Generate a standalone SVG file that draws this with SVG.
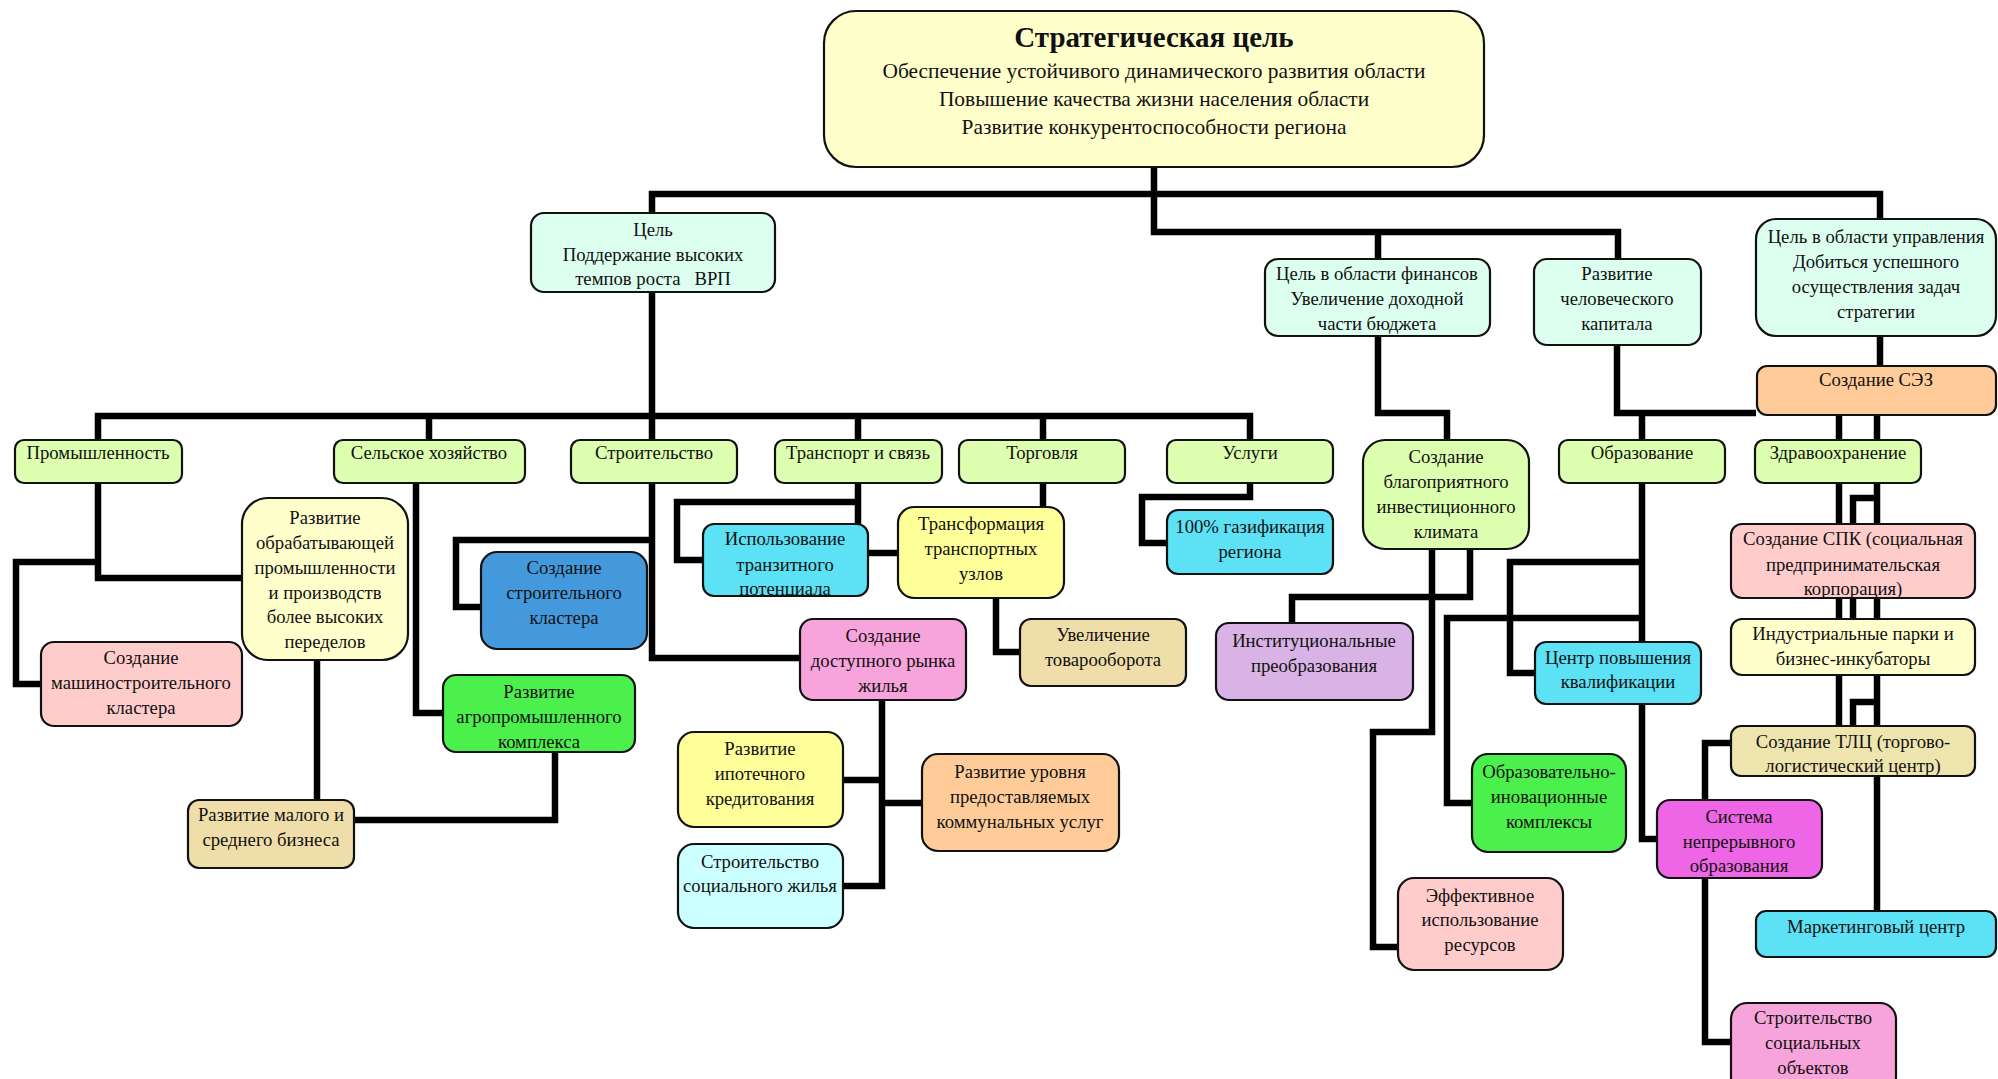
<svg xmlns="http://www.w3.org/2000/svg" width="1998" height="1079" viewBox="0 0 1998 1079">
<style>
.b{stroke:#111;stroke-width:2.2}
.t{font-family:"Liberation Serif","Times New Roman",serif;font-size:18.7px;fill:#111;text-anchor:middle}
.h{font-size:29px;font-weight:bold}
.s{font-size:21.4px}
.c{fill:none;stroke:#000;stroke-width:6.5;stroke-linejoin:miter;stroke-linecap:butt}
.mint{fill:#DCFFF0}.lime{fill:#DDFFB0}.py{fill:#FFFFCC}.yel{fill:#FFFF99}.cy{fill:#5CE1F5}.lcy{fill:#CCFFFF}
.pink{fill:#FFCCCC}.rose{fill:#F8A4DC}.mag{fill:#EE66E6}.grn{fill:#4CF04C}.blu{fill:#4499DD}.lav{fill:#D9B3E6}
.tan{fill:#F0DEAA}.tan2{fill:#EEE4AE}.or{fill:#FFCC99}
</style>
<defs>
<clipPath id="clipUse"><rect x="703" y="524" width="165" height="72" rx="11"/></clipPath>
<clipPath id="clipSpk"><rect x="1731" y="524" width="244" height="74" rx="11"/></clipPath>
</defs>
<rect width="1998" height="1079" fill="#fff"/>
<g id="connectors">
<path class="c" d="M1154,167 V232 H1618 V259"/>
<path class="c" d="M652,213 V194 H1880 V219"/>
<path class="c" d="M1378,232 V259"/>
<path class="c" d="M652,292 V658 H800"/>
<path class="c" d="M98,440 V416 H1250 V440"/>
<path class="c" d="M429,416 V440 M858,416 V440 M1043,416 V440"/>
<path class="c" d="M98,483 V578 H242"/>
<path class="c" d="M98,562 H16 V684 H41"/>
<path class="c" d="M317,660 V800"/>
<path class="c" d="M354,820 H555 V752"/>
<path class="c" d="M416,483 V713 H443"/>
<path class="c" d="M652,540 H456 V607 H481"/>
<path class="c" d="M858,483 V524"/>
<path class="c" d="M858,502 H677 V560 H703"/>
<path class="c" d="M868,553 H898"/>
<path class="c" d="M1043,483 V507"/>
<path class="c" d="M996,598 V652 H1020"/>
<path class="c" d="M1250,483 V497 H1142 V543 H1167"/>
<path class="c" d="M882,700 V886 H842"/>
<path class="c" d="M842,780 H882 M882,803 H922"/>
<path class="c" d="M1378,336 V413 H1447 V440"/>
<path class="c" d="M1617,345 V413 H1756"/>
<path class="c" d="M1642,413 V440"/>
<path class="c" d="M1880,336 V366"/>
<path class="c" d="M1839,415 V440 M1877,415 V440"/>
<path class="c" d="M1839,483 V524 M1877,483 V524"/>
<path class="c" d="M1877,498 H1853 V524"/>
<path class="c" d="M1839,598 V619 M1853,598 V619 M1877,598 V619"/>
<path class="c" d="M1839,675 V726 M1877,675 V726"/>
<path class="c" d="M1877,702 H1853 V726"/>
<path class="c" d="M1877,776 V911"/>
<path class="c" d="M1731,743 H1705 V800"/>
<path class="c" d="M1705,878 V1042 H1731"/>
<path class="c" d="M1470,549 V597 H1292 V622"/>
<path class="c" d="M1432,549 V732 H1373 V947 H1398"/>
<path class="c" d="M1642,483 V642"/>
<path class="c" d="M1642,562 H1510 V673 H1535"/>
<path class="c" d="M1642,618 H1447 V803 H1472"/>
<path class="c" d="M1642,703 V839 H1657"/>
</g>

<g id="n-strategic">
<rect class="b py" x="824" y="11" width="660" height="156" rx="32"/>
<text class="t h" x="1154" y="47">Стратегическая цель</text>
<text class="t s" x="1154" y="78">Обеспечение устойчивого динамического развития области</text>
<text class="t s" x="1154" y="106">Повышение качества жизни населения области</text>
<text class="t s" x="1154" y="134">Развитие конкурентоспособности региона</text>
</g>
<g id="n-grp">
<rect class="b mint" x="531" y="213" width="244" height="79" rx="13"/>
<text class="t" x="653" y="236">Цель</text>
<text class="t" x="653" y="261">Поддержание высоких</text>
<text class="t" x="653" y="285">темпов роста&#160;&#160; ВРП</text>
</g>
<g id="n-finance">
<rect class="b mint" x="1265" y="259" width="225" height="77" rx="13"/>
<text class="t" x="1377" y="280">Цель в области финансов</text>
<text class="t" x="1377" y="305">Увеличение доходной</text>
<text class="t" x="1377" y="330">части бюджета</text>
</g>
<g id="n-human">
<rect class="b mint" x="1534" y="259" width="167" height="86" rx="13"/>
<text class="t" x="1617" y="280">Развитие</text>
<text class="t" x="1617" y="305">человеческого</text>
<text class="t" x="1617" y="330">капитала</text>
</g>
<g id="n-mgmt">
<rect class="b mint" x="1756" y="219" width="240" height="117" rx="20"/>
<text class="t" x="1876" y="243">Цель в области управления</text>
<text class="t" x="1876" y="268">Добиться успешного</text>
<text class="t" x="1876" y="293">осуществления задач</text>
<text class="t" x="1876" y="318">стратегии</text>
</g>
<g id="n-sez">
<rect class="b or" x="1757" y="366" width="239" height="49" rx="10"/>
<text class="t" x="1876" y="386">Создание СЭЗ</text>
</g>

<g id="n-industry"><rect class="b lime" x="15" y="440" width="167" height="43" rx="9"/><text class="t" x="98" y="459">Промышленность</text></g>
<g id="n-agri"><rect class="b lime" x="334" y="440" width="191" height="43" rx="9"/><text class="t" x="429" y="459">Сельское хозяйство</text></g>
<g id="n-constr"><rect class="b lime" x="571" y="440" width="166" height="43" rx="9"/><text class="t" x="654" y="459">Строительство</text></g>
<g id="n-transport"><rect class="b lime" x="775" y="440" width="167" height="43" rx="9"/><text class="t" x="858" y="459">Транспорт и связь</text></g>
<g id="n-trade"><rect class="b lime" x="959" y="440" width="166" height="43" rx="9"/><text class="t" x="1042" y="459">Торговля</text></g>
<g id="n-services"><rect class="b lime" x="1167" y="440" width="166" height="43" rx="9"/><text class="t" x="1250" y="459">Услуги</text></g>
<g id="n-invest"><rect class="b lime" x="1363" y="440" width="166" height="109" rx="22"/>
<text class="t" x="1446" y="463">Создание</text><text class="t" x="1446" y="488">благоприятного</text><text class="t" x="1446" y="513">инвестиционного</text><text class="t" x="1446" y="538">климата</text></g>
<g id="n-edu"><rect class="b lime" x="1559" y="440" width="166" height="43" rx="9"/><text class="t" x="1642" y="459">Образование</text></g>
<g id="n-health"><rect class="b lime" x="1755" y="440" width="166" height="43" rx="9"/><text class="t" x="1838" y="459">Здравоохранение</text></g>

<g id="n-manuf"><rect class="b py" x="242" y="498" width="166" height="162" rx="26"/>
<text class="t" x="325" y="524">Развитие</text><text class="t" x="325" y="549">обрабатывающей</text><text class="t" x="325" y="574">промышленности</text><text class="t" x="325" y="599">и производств</text><text class="t" x="325" y="623">более высоких</text><text class="t" x="325" y="648">переделов</text></g>
<g id="n-machine"><rect class="b pink" x="41" y="642" width="201" height="84" rx="13"/>
<text class="t" x="141" y="664">Создание</text><text class="t" x="141" y="689">машиностроительного</text><text class="t" x="141" y="714">кластера</text></g>
<g id="n-sme"><rect class="b tan" x="188" y="800" width="166" height="68" rx="11"/>
<text class="t" x="271" y="821">Развитие малого и</text><text class="t" x="271" y="846">среднего бизнеса</text></g>
<g id="n-agrocomplex"><rect class="b grn" x="443" y="675" width="192" height="77" rx="13"/>
<text class="t" x="539" y="698">Развитие</text><text class="t" x="539" y="723">агропромышленного</text><text class="t" x="539" y="748">комплекса</text></g>
<g id="n-cluster"><rect class="b blu" x="481" y="552" width="166" height="97" rx="16"/>
<text class="t" x="564" y="574">Создание</text><text class="t" x="564" y="599">строительного</text><text class="t" x="564" y="624">кластера</text></g>
<g id="n-transit"><rect class="b cy" x="703" y="524" width="165" height="72" rx="11"/>
<g clip-path="url(#clipUse)"><text class="t" x="785" y="545">Использование</text><text class="t" x="785" y="571">транзитного</text><text class="t" x="785" y="595">потенциала</text></g></g>
<g id="n-hubs"><rect class="b yel" x="898" y="507" width="166" height="91" rx="16"/>
<text class="t" x="981" y="530">Трансформация</text><text class="t" x="981" y="555">транспортных</text><text class="t" x="981" y="580">узлов</text></g>
<g id="n-gas"><rect class="b cy" x="1167" y="510" width="166" height="64" rx="11"/>
<text class="t" x="1250" y="533">100% газификация</text><text class="t" x="1250" y="558">региона</text></g>
<g id="n-turnover"><rect class="b tan" x="1020" y="619" width="166" height="67" rx="11"/>
<text class="t" x="1103" y="641">Увеличение</text><text class="t" x="1103" y="666">товарооборота</text></g>
<g id="n-housing"><rect class="b rose" x="800" y="619" width="166" height="81" rx="13"/>
<text class="t" x="883" y="642">Создание</text><text class="t" x="883" y="667">доступного рынка</text><text class="t" x="883" y="692">жилья</text></g>
<g id="n-mortgage"><rect class="b yel" x="678" y="732" width="165" height="95" rx="16"/>
<text class="t" x="760" y="755">Развитие</text><text class="t" x="760" y="780">ипотечного</text><text class="t" x="760" y="805">кредитования</text></g>
<g id="n-utilities"><rect class="b or" x="922" y="754" width="197" height="97" rx="16"/>
<text class="t" x="1020" y="778">Развитие уровня</text><text class="t" x="1020" y="803">предоставляемых</text><text class="t" x="1020" y="828">коммунальных услуг</text></g>
<g id="n-social"><rect class="b lcy" x="678" y="844" width="165" height="84" rx="16"/>
<text class="t" x="760" y="868">Строительство</text><text class="t" x="760" y="892">социального жилья</text></g>

<g id="n-inst"><rect class="b lav" x="1216" y="623" width="197" height="77" rx="13"/>
<text class="t" x="1314" y="647">Институциональные</text><text class="t" x="1314" y="672">преобразования</text></g>
<g id="n-qual"><rect class="b cy" x="1535" y="642" width="166" height="62" rx="11"/>
<text class="t" x="1618" y="664">Центр повышения</text><text class="t" x="1618" y="688">квалификации</text></g>
<g id="n-eduinn"><rect class="b grn" x="1472" y="754" width="154" height="98" rx="16"/>
<text class="t" x="1549" y="778">Образовательно-</text><text class="t" x="1549" y="803">иновационные</text><text class="t" x="1549" y="828">комплексы</text></g>
<g id="n-resources"><rect class="b pink" x="1398" y="878" width="165" height="92" rx="16"/>
<text class="t" x="1480" y="902">Эффективное</text><text class="t" x="1480" y="926">использование</text><text class="t" x="1480" y="951">ресурсов</text></g>
<g id="n-lifelong"><rect class="b mag" x="1657" y="800" width="165" height="78" rx="13"/>
<text class="t" x="1739" y="823">Система</text><text class="t" x="1739" y="848">непрерывного</text><text class="t" x="1739" y="872">образования</text></g>
<g id="n-spk"><rect class="b pink" x="1731" y="524" width="244" height="74" rx="11"/>
<g clip-path="url(#clipSpk)"><text class="t" x="1853" y="545">Создание СПК (социальная</text><text class="t" x="1853" y="571">предпринимательская</text><text class="t" x="1853" y="595">корпорация)</text></g></g>
<g id="n-parks"><rect class="b py" x="1731" y="619" width="244" height="56" rx="11"/>
<text class="t" x="1853" y="640">Индустриальные парки и</text><text class="t" x="1853" y="665">бизнес-инкубаторы</text></g>
<g id="n-tlc"><rect class="b tan2" x="1731" y="726" width="244" height="50" rx="10"/>
<text class="t" x="1853" y="748">Создание ТЛЦ (торгово-</text><text class="t" x="1853" y="772">логистический центр)</text></g>
<g id="n-marketing"><rect class="b cy" x="1756" y="911" width="240" height="46" rx="10"/>
<text class="t" x="1876" y="933">Маркетинговый центр</text></g>
<g id="n-socobj"><rect class="b rose" x="1731" y="1003" width="165" height="90" rx="16"/>
<text class="t" x="1813" y="1024">Строительство</text><text class="t" x="1813" y="1049">социальных</text><text class="t" x="1813" y="1074">объектов</text></g>
</svg>
